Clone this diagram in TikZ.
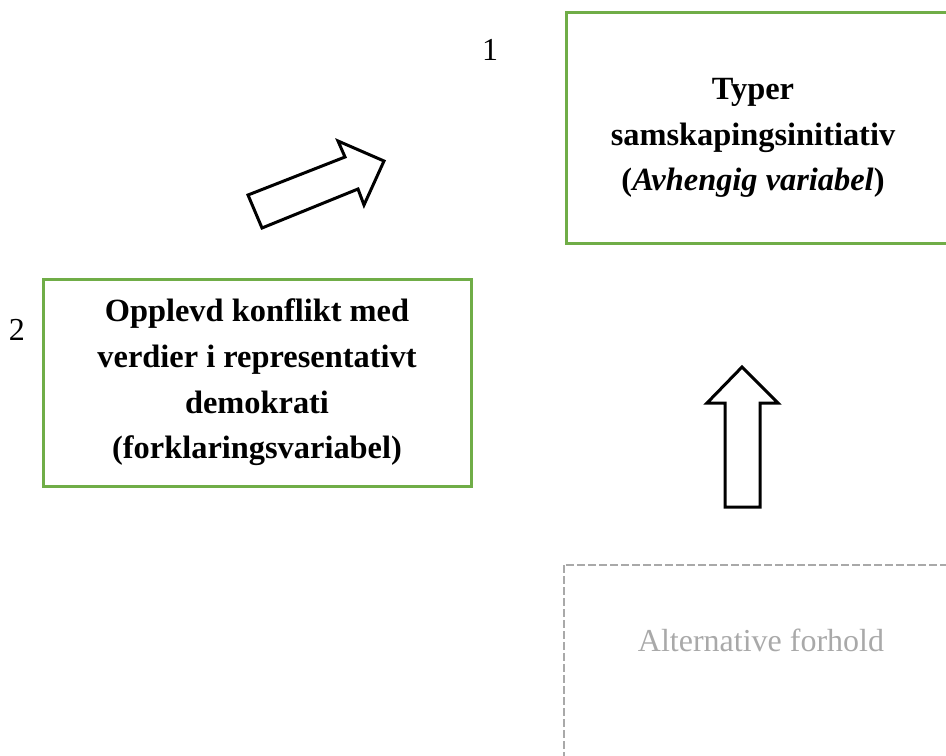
\documentclass[tikz,border=0pt]{standalone}
\usepackage{fontspec}
\setmainfont{Liberation Serif}
\usepackage{tikz}

\definecolor{boxgreen}{HTML}{70AD47}
\definecolor{altgray}{HTML}{A9A9A9}

\tikzset{
  varbox/.style={draw=boxgreen,line width=1.5pt,align=center,
    font=\bfseries\fontsize{16.2}{22.8}\selectfont},
  vartext/.style={align=center,font=\bfseries\fontsize{16.2}{22.8}\selectfont},
  blockarrow/.style={draw=black,line width=1.5pt,fill=white,line join=miter},
  altbox/.style={draw=altgray,line width=1pt,dash pattern=on 4pt off 1.5pt},
  numlabel/.style={font=\fontsize{16}{20}\selectfont}
}

\begin{document}
\begin{tikzpicture}[x=0.5pt,y=-0.5pt]
  \useasboundingbox (0,0) rectangle (946,755);
  \clip (0,0) rectangle (946,755);

  \draw (758,128) node[varbox,minimum width=192pt,minimum height=115.5pt] (dep) {};
  \draw (753,138) node[vartext] (deptext)
    {Typer\\samskapingsinitiativ\\(\textit{Avhengig variabel})};
  \draw (257,382.5) node[varbox,minimum width=214pt,minimum height=103.5pt] (expl)
    {Opplevd konflikt med\\verdier i representativt\\demokrati\\(forklaringsvariabel)};

  \draw (490,50) node[numlabel] (one) {1};
  \draw (17,330) node[numlabel] (two) {2};

  % block arrows
  \draw[blockarrow] (248,195) -- (345,157) -- (338,141) -- (384,161)
    -- (364,205) -- (358,189) -- (262,228) -- cycle;
  \draw[blockarrow] (725,507) -- (725,403) -- (707,403) -- (742,367)
    -- (778,403) -- (760,403) -- (760,507) -- cycle;

  % alternative box
  \draw[altbox] (564,565) rectangle (970,780);
  \draw (761,640) node[numlabel,text=altgray] (alt) {Alternative forhold};

\end{tikzpicture}
\end{document}
